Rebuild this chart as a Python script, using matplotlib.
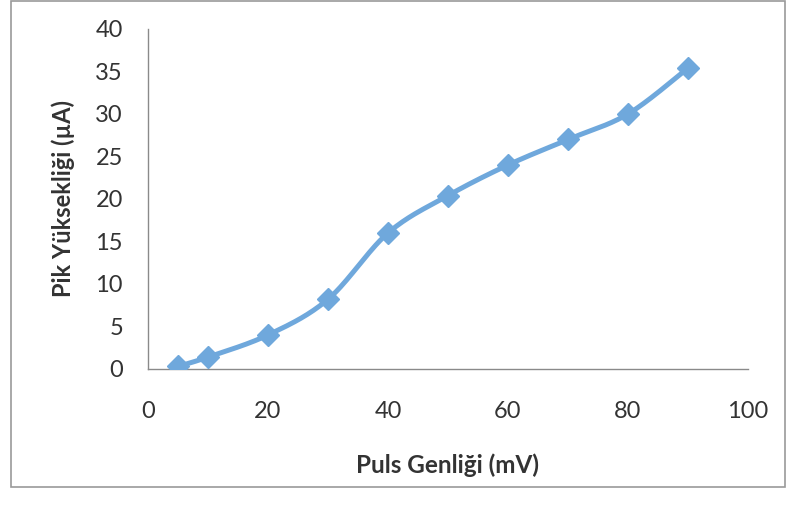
import numpy as np
import matplotlib
matplotlib.use("Agg")
import matplotlib.pyplot as plt
from matplotlib.patches import Rectangle

x_vals = [5, 10, 20, 30, 40, 50, 60, 70, 80, 90]
y_vals = [0.3, 1.4, 4.0, 8.2, 16.0, 20.4, 24.0, 27.0, 30.0, 35.4]
x_ticks = [0, 20, 40, 60, 80, 100]
y_ticks = [0, 5, 10, 15, 20, 25, 30, 35, 40]
x_label = "Puls Genliği (mV)"
y_label = "Pik Yüksekliği (µA)"

plt.rcParams['font.family'] = ['Lato', 'DejaVu Sans']

def smooth(xs, ys, n=30):
    # Catmull-Rom style smoothing of the polyline (render only)
    P = np.column_stack([xs, ys]).astype(float)
    P = np.vstack([P[0], P, P[-1]])
    out = []
    for i in range(1, len(P) - 2):
        p0, p1, p2, p3 = P[i - 1], P[i], P[i + 1], P[i + 2]
        t = np.linspace(0, 1, n)[:, None]
        seg = 0.5 * ((2 * p1) + (-p0 + p2) * t + (2 * p0 - 5 * p1 + 4 * p2 - p3) * t ** 2
                     + (-p0 + 3 * p1 - 3 * p2 + p3) * t ** 3)
        out.append(seg if i == 1 else seg[1:])
    out = np.vstack(out)
    return out[:, 0], out[:, 1]

fig = plt.figure(figsize=(7.9, 5.15), dpi=100)
ax = fig.add_axes([0.1873, 0.2835, 0.7595, 0.6602])

color = "#6fa8dc"
sx, sy = smooth(x_vals, y_vals)
ax.plot(sx, sy, color=color, lw=3.6, solid_capstyle='round', zorder=2)
ax.plot(x_vals, y_vals, linestyle='none', marker='D', markersize=11,
        color=color, markeredgecolor=color, zorder=3)

ax.set_xlim(0, 100)
ax.set_ylim(0, 40)
ax.set_xticks(x_ticks)
ax.set_yticks(y_ticks)
ax.tick_params(axis='both', length=0, labelsize=17, colors='#333333')
ax.tick_params(axis='y', pad=18)
ax.tick_params(axis='x', pad=23)
for s in ['top', 'right']:
    ax.spines[s].set_visible(False)
for s in ['left', 'bottom']:
    ax.spines[s].set_color('#8a8a8a')
    ax.spines[s].set_linewidth(1.0)

ax.set_xlabel(x_label, fontsize=17.5, fontweight='bold', color='#333333', labelpad=23)
ax.set_ylabel(y_label, fontsize=17, fontweight='bold', color='#333333', labelpad=15)

fig.patches.append(Rectangle((11 / 790, 1 - 487 / 515), (785 - 11) / 790, (486) / 515,
                             transform=fig.transFigure, fill=False,
                             edgecolor='#9a9a9a', lw=1.2))

fig.savefig("out.png", dpi=100)
